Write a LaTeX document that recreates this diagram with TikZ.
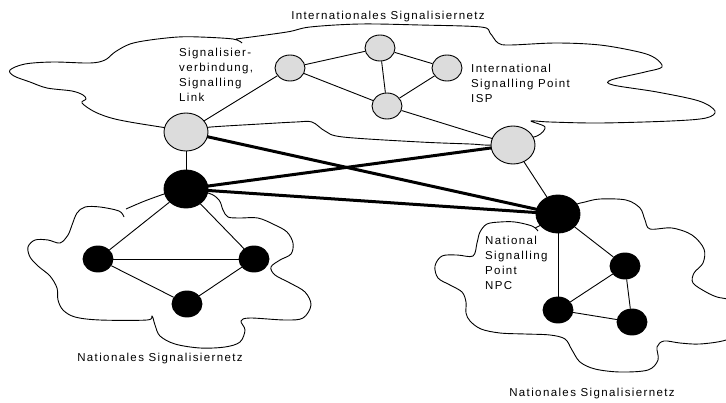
\documentclass[tikz,border=0pt]{standalone}
\usepackage{fontspec}
\setmainfont{Liberation Sans}[LetterSpace=12]
\usetikzlibrary{shapes.geometric}
\pgfdeclarelayer{bg}
\pgfsetlayers{bg,main}
\definecolor{ispgray}{RGB}{220,220,220}
\tikzset{
  spnode/.style={ellipse, draw=black, line width=0.9pt, inner sep=0pt},
  isp/.style={spnode, fill=ispgray},
  npc/.style={spnode, fill=black},
  bigsp/.style={minimum width=44pt, minimum height=38pt},
  smallsp/.style={minimum width=30pt, minimum height=26pt},
  thinlink/.style={line width=0.9pt},
  trunk/.style={line width=3pt},
  cloudline/.style={line width=0.9pt, line join=round},
  lbl/.style={inner sep=0pt, align=left, font=\fontsize{11.5}{15}\selectfont},
}
\begin{document}
\begin{tikzpicture}[x=1pt, y=-1pt]
\useasboundingbox (0,0) rectangle (726,402);

% international signalling points
\node[isp, smallsp] (ia) at (290,68) {};
\node[isp, smallsp] (ib) at (380,48) {};
\node[isp, smallsp] (ic) at (447,68) {};
\node[isp, smallsp] (id) at (387,106) {};
\node[isp, bigsp]   (gl) at (186,132) {};
\node[isp, bigsp]   (gr) at (513,145) {};

% national signalling points
\node[npc, bigsp]   (bl) at (186,189) {};
\node[npc, bigsp]   (br) at (558,214) {};
\node[npc, smallsp] (l1) at (98,259) {};
\node[npc, smallsp] (l2) at (254,259) {};
\node[npc, smallsp] (l3) at (187,304) {};
\node[npc, smallsp] (r1) at (625,266) {};
\node[npc, smallsp] (r2) at (632,322) {};
\node[npc, smallsp] (r3) at (558,310) {};

% labels
\node[lbl, anchor=base] (tInt) at (388,19) {Internationales Signalisiernetz};
\node[lbl, anchor=north west] (tLink) at (179,47.6) {Signalisier-\\verbindung,\\Signalling\\Link};
\node[lbl, anchor=north west] (tIsp) at (471,63.7) {International\\Signalling Point\\ISP};
\node[lbl, anchor=north west] (tNpc) at (485,235.7) {National\\Signalling\\Point\\NPC};
\node[lbl, anchor=base] (tNatL) at (160,361) {Nationales Signalisiernetz};
\node[lbl, anchor=base] (tNatR) at (592,396) {Nationales Signalisiernetz};

\begin{pgfonlayer}{bg}
% international network cloud
\draw[cloudline] plot[smooth, tension=0.55] coordinates {
  (242,43) (233,39) (200,37) (178,37) (150,40) (130,44) (115,52) (105,60)
  (90,63) (53,62) (25,64) (10,70) (14,76) (30,82) (47,88) (72,91) (83,95)
  (86,99) (82,103) (95,112) (115,119) (148,125) (186,130) (211,127)
  (260,124) (296,122) (312,122) (325,131) (343,137) (420,142) (470,144)
  (492,145) (515,140) (537,136) (545,127) (531,121) (550,122) (600,123)
  (671,121) (706,118) (715,111) (699,101) (657,92) (613,85) (611,80)
  (645,72) (662,67) (655,58) (639,52) (600,45) (556,43) (510,45) (498,43)
  (490,33) (481,27) (420,25) (360,24) (310,27) (287,32) (236,39)};
% left national network cloud
\draw[cloudline] plot[smooth, tension=0.55] coordinates {
  (124,217) (119,211) (100,207) (85,207) (77,213) (72,225) (68,235)
  (60,243) (48,240) (35,240) (28,247) (30,257) (38,266) (50,276) (57,288)
  (58,300) (63,310) (75,317) (100,320) (147,320) (152,316) (155,325)
  (160,336) (175,344) (200,348) (225,347) (240,342) (245,330) (241,321)
  (250,318) (285,320) (303,318) (311,305) (305,292) (290,283) (275,275)
  (271,267) (280,260) (291,254) (293,243) (287,232) (275,225) (258,218)
  (240,218) (228,217) (223,210) (219,200) (208,193) (180,190) (150,199)
  (126,209)};
% right national network cloud
\draw[cloudline] plot[smooth, tension=0.55] coordinates {
  (538,231) (532,226) (515,222) (500,222) (487,224) (480,232) (477,243)
  (473,256) (457,255) (442,256) (435,266) (438,278) (450,285) (462,292)
  (466,302) (466,313) (470,321) (481,329) (500,333) (525,334) (550,335)
  (565,339) (572,350) (580,362) (595,369) (620,372) (648,370) (658,360)
  (657,347) (664,341) (680,343) (700,344) (726,340)
  (740,330) (745,310) (730,300) (717,297) (706,292) (693,283)
  (694,273) (703,263) (704,249) (692,235) (672,228) (650,229) (645,220)
  (640,208) (626,200) (600,199) (585,202) (575,205) (560,215)
  (541,225) (535,228)};

% signalling links
\draw[thinlink] (gl) -- (ia);
\draw[thinlink] (ia) -- (ib);
\draw[thinlink] (ia) -- (id);
\draw[thinlink] (ib) -- (ic);
\draw[thinlink] (ib) -- (id);
\draw[thinlink] (ic) -- (id);
\draw[thinlink] (id) -- (gr);
\draw[thinlink] (gl) -- (bl);
\draw[thinlink] (gr) -- (br);
\draw[trunk] (gl.center) -- (br.center);
\draw[trunk] (bl.center) -- (gr.center);
\draw[trunk] (bl.center) -- (br.center);
\draw[thinlink] (bl) -- (l1);
\draw[thinlink] (bl) -- (l2);
\draw[thinlink] (l1) -- (l2);
\draw[thinlink] (l1) -- (l3);
\draw[thinlink] (l2) -- (l3);
\draw[thinlink] (br) -- (r1);
\draw[thinlink] (br) -- (r3);
\draw[thinlink] (r1) -- (r3);
\draw[thinlink] (r1) -- (r2);
\draw[thinlink] (r3) -- (r2);
\end{pgfonlayer}
\end{tikzpicture}
\end{document}
